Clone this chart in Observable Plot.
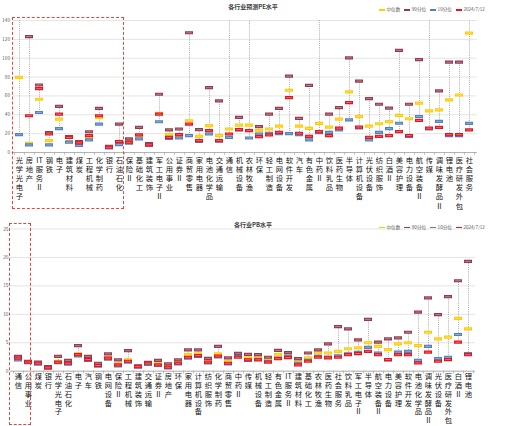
<!DOCTYPE html>
<html><head><meta charset="utf-8">
<script src="https://cdn.jsdelivr.net/npm/d3@7"></script>
<script src="https://cdn.jsdelivr.net/npm/@observablehq/plot@0.6"></script>
<style>
body{margin:0;background:#fff;font-family:"Noto Sans CJK SC",sans-serif;}
#wrap{position:relative;width:506px;height:426px;overflow:hidden;background:#fff;}
.panel{position:absolute;left:0;}
.title{position:absolute;left:0;width:506px;text-align:center;font-size:6px;font-weight:bold;color:#404040;line-height:7px;}
.legend{position:absolute;left:379px;font-size:4.6px;color:#595959;display:flex;gap:4px;white-space:nowrap;line-height:6px;}
.legend i{display:inline-block;width:6px;height:1.6px;vertical-align:middle;margin-right:1.5px;}
.box{position:absolute;border:1.3px dashed #e8463c;box-sizing:border-box;}
</style></head><body><div id="wrap"></div>
<script>
// ---------- PE panel data ----------
const peCats = ["光学光电子","房地产","IT服务Ⅱ","钢铁","电子","建筑材料","煤炭","工程机械","化学制药","银行","石油石化","保险Ⅱ","基础化工","建筑装饰","军工电子Ⅱ","公用事业","证券Ⅱ","商贸零售","家用电器","电池化学品","交通运输","通信","机械设备","农林牧渔","环保","轻工制造","电网设备","软件开发","汽车","有色金属","中药Ⅱ","饮料乳品","医药生物","半导体","计算机设备","光伏设备","纺织服饰","白酒Ⅱ","美容护理","电力设备","航空装备Ⅱ","传媒","调味发酵品Ⅱ","锂电池","医疗研发外包","社会服务"];
const peMedian = [79.7,9.8,56.5,12.6,35.4,11.5,10.5,16,37,5.8,11,11.2,18,9,41.4,18.9,18,33.7,17.2,28.4,17.9,24.9,29.1,29,23.2,24.9,28,66,28,25.5,30.9,27,35.4,64.2,38,28,30.5,32.8,39.3,35.8,52.3,44.2,45.3,55.8,61,126.7];
const peP90 = [170,123,71.6,21,49,16.8,11.6,22,46.7,6.5,30.2,14.4,26.7,9.5,61.8,24,24.9,127,24.2,68.8,54.7,170,37.2,170,27.4,40.7,46.7,81,36.1,71.2,170,40.7,47.7,100.4,75.8,57.2,51.2,47,108.4,51.2,98.6,170,65.3,95.8,95.8,170];
const peP10 = [18.9,8,42.4,8,25.3,10.9,7.4,13.3,30.2,5,8.4,9.8,14.4,7.5,32.6,15,15.4,17.9,11.8,19.6,12,16.1,24,15.4,19.6,20.4,20,20,19,13.3,21,21.4,24,34.7,26,13.3,21.4,25.3,31,17,38.2,25,33,18,18,30.9];
const peNow = [150,39,67.7,19.6,40.7,16,10.2,17.9,39,5.6,11.6,10.9,18.6,8.1,40.7,16.1,18.9,30.2,12.6,23.2,12.6,19.6,24.2,23.2,16.8,18.6,21.4,58.2,20.4,17.2,22.1,17.9,25.8,53,27,16.1,17.2,17.9,22.1,17.9,34,25.8,26.7,18.9,18.9,24];
const peTicks = [0,20,40,60,80,100,120,140];

// ---------- PB panel data ----------
const pbCats = ["通信","公用事业","煤炭","银行","光学光电子","石油石化","电子","汽车","钢铁","电网设备","保险Ⅱ","工程机械","建筑装饰","交通运输","证券Ⅱ","房地产","环保","家用电器","计算机设备","纺织服饰","化学制药","商贸零售","中药Ⅱ","传媒","机械设备","轻工制造","有色金属","IT服务Ⅱ","建筑材料","基础化工","农林牧渔","医药生物","社会服务","饮料乳品","军工电子Ⅱ","半导体","航空装备Ⅱ","电力设备","美容护理","软件开发","电池化学品","调味发酵品Ⅱ","光伏设备","医疗研发外包","白酒Ⅱ","锂电池"];
const pbMedian = [2.3,1.65,1.4,0.7,1.75,1.5,3.05,2.35,1.1,2.45,1.3,2.0,0.85,1.4,1.3,1.0,1.55,2.9,3.05,1.75,3.05,1.75,2.8,2.35,2.45,2.0,2.9,2.9,1.75,2.35,3.2,3.2,3.5,3.95,4.1,5.0,4.35,3.8,4.8,5.0,4.5,6.85,5.7,6.0,9.3,7.45];
const pbP90 = [2.6,1.75,1.6,0.8,2.6,1.9,4.5,2.6,1.4,3.05,2.0,3.6,0.95,1.55,1.9,1.3,2.0,3.75,3.75,2.25,4.35,2.35,3.15,2.95,2.9,2.45,3.65,3.25,2.2,3.2,3.75,4.8,7.85,7.45,5.5,9.1,5.1,5.7,5.85,6.85,10.4,12.9,9.95,13.1,15.9,19.3];
const pbP10 = [2.0,1.5,1.25,0.55,1.5,1.25,2.7,1.9,0.9,2.1,0.95,1.6,0.7,1.2,1.0,0.6,1.3,2.3,2.6,1.45,2.5,1.3,2.6,1.9,2.1,1.75,2.3,2.6,1.4,1.9,2.6,2.5,2.7,3.05,3.3,4.2,3.2,2.0,3.35,3.5,1.9,4.35,2.2,2.45,6.45,3.1];
const pbNow = [2.3,1.6,1.4,0.6,1.6,1.4,2.9,2.05,1.0,2.3,1.1,1.75,0.8,1.4,1.1,0.7,1.4,2.45,2.75,1.6,2.65,1.4,2.45,2.0,2.0,1.6,2.2,2.4,1.1,1.75,2.45,2.35,2.45,2.9,3.1,3.5,2.9,2.05,2.9,2.9,1.45,3.35,1.75,2.05,5.1,2.9];
const pbTicks = [0,5,10,15,20,25];

const seriesNames = ["中位数","90分位","10分位","2024/7/12"];
const seriesColors = ["#FFCC00","#943B4E","#4F81BD","#E5141E"];

const FONT = "'Noto Sans CJK SC', sans-serif";
const W = 506;

function buildPanel({cats, med, p90, p10, now, ticks, height, mt, mb, ml, mr, tickLen, pad, fs, lh}) {
  const rows = cats.map((c, i) => {
    const v = [med[i], p90[i], p10[i], now[i]];
    return {c, med: med[i], p90: p90[i], p10: p10[i], now: now[i], lo: Math.min(...v), hi: Math.max(...v)};
  });
  const step = (W - ml - mr) / cats.length;
  const keys = ["med", "p90", "p10", "now"];
  const markerMarks = keys.flatMap((k, j) => [
    Plot.tickY(rows, {x: "c", y: k, stroke: seriesColors[j], strokeWidth: 3.2, insetLeft: 1, insetRight: 1, clip: true}),
    Plot.tickY(rows, {x: "c", y: k, stroke: "white", strokeOpacity: 0.45, strokeWidth: 0.8, insetLeft: 2.2, insetRight: 2.2, clip: true})
  ]);
  return Plot.plot({
    width: W, height,
    marginTop: mt, marginBottom: mb, marginLeft: ml, marginRight: mr,
    style: {fontFamily: FONT, background: "transparent", overflow: "visible"},
    x: {domain: cats, padding: 0, axis: null},
    y: {domain: [ticks[0], ticks[ticks.length - 1]], axis: null},
    marks: [
      Plot.gridY(ticks, {stroke: "#d9d9d9", strokeOpacity: 1, strokeWidth: 0.7}),
      Plot.axisY(ticks, {tickSize: 0, tickPadding: 2, fontSize: 4.8, color: "#595959", label: null}),
      Plot.ruleX(rows, {x: "c", y1: "lo", y2: "hi", stroke: "#8c8c8c", strokeWidth: 0.7, strokeDasharray: "1 1.1", clip: true}),
      ...markerMarks,
      Plot.ruleY([0], {stroke: "#a6a6a6", strokeWidth: 0.8}),
      Plot.ruleX(cats, {x: d => d, dx: -step / 2, y1: 0, y2: -tickLen, stroke: "#a6a6a6", strokeWidth: 0.7}),
      Plot.ruleX([cats[cats.length - 1]], {x: d => d, dx: step / 2, y1: 0, y2: -tickLen, stroke: "#a6a6a6", strokeWidth: 0.7}),
      Plot.axisX({tickSize: 0, tickPadding: pad, fontSize: fs, lineHeight: lh, fill: "#111", label: null,
        tickFormat: d => d.match(/[A-Za-z]+|./gu).join("\n")})
    ]
  });
}

const wrap = document.getElementById("wrap");

function addPanel(svg, top) {
  svg.classList.add("panel");
  svg.style.top = top + "px";
  wrap.appendChild(svg);
}

addPanel(buildPanel({cats: peCats, med: peMedian, p90: peP90, p10: peP10, now: peNow, ticks: peTicks,
  height: 215, mt: 20, mb: 63, ml: 11.6, mr: 29.3, tickLen: 3, pad: 4, fs: 7.3, lh: 1.25}), 0);
addPanel(buildPanel({cats: pbCats, med: pbMedian, p90: pbP90, p10: pbP10, now: pbNow, ticks: pbTicks,
  height: 211, mt: 13.5, mb: 55.3, ml: 10, mr: 31, tickLen: 0.5, pad: 2, fs: 7.3, lh: 1.2}), 215);

function addTitle(text, top) {
  const d = document.createElement("div");
  d.className = "title"; d.textContent = text; d.style.top = top + "px";
  wrap.appendChild(d);
}
function addLegend(top) {
  const d = document.createElement("div");
  d.className = "legend"; d.style.top = top + "px";
  seriesNames.forEach((n, i) => {
    const s = document.createElement("span");
    const m = document.createElement("i"); m.style.background = seriesColors[i];
    s.appendChild(m); s.appendChild(document.createTextNode(n));
    d.appendChild(s);
  });
  wrap.appendChild(d);
}
function addBox(l, t, w, h) {
  const d = document.createElement("div");
  d.className = "box";
  Object.assign(d.style, {left: l + "px", top: t + "px", width: w + "px", height: h + "px"});
  wrap.appendChild(d);
}

addTitle("各行业预测PE水平", 3);
addTitle("各行业PB水平", 220.5);
addLegend(6.3);
addLegend(223.7);
addBox(11.5, 17, 112, 191.5);
addBox(9, 223, 22, 201.5);
</script>
</body></html>
